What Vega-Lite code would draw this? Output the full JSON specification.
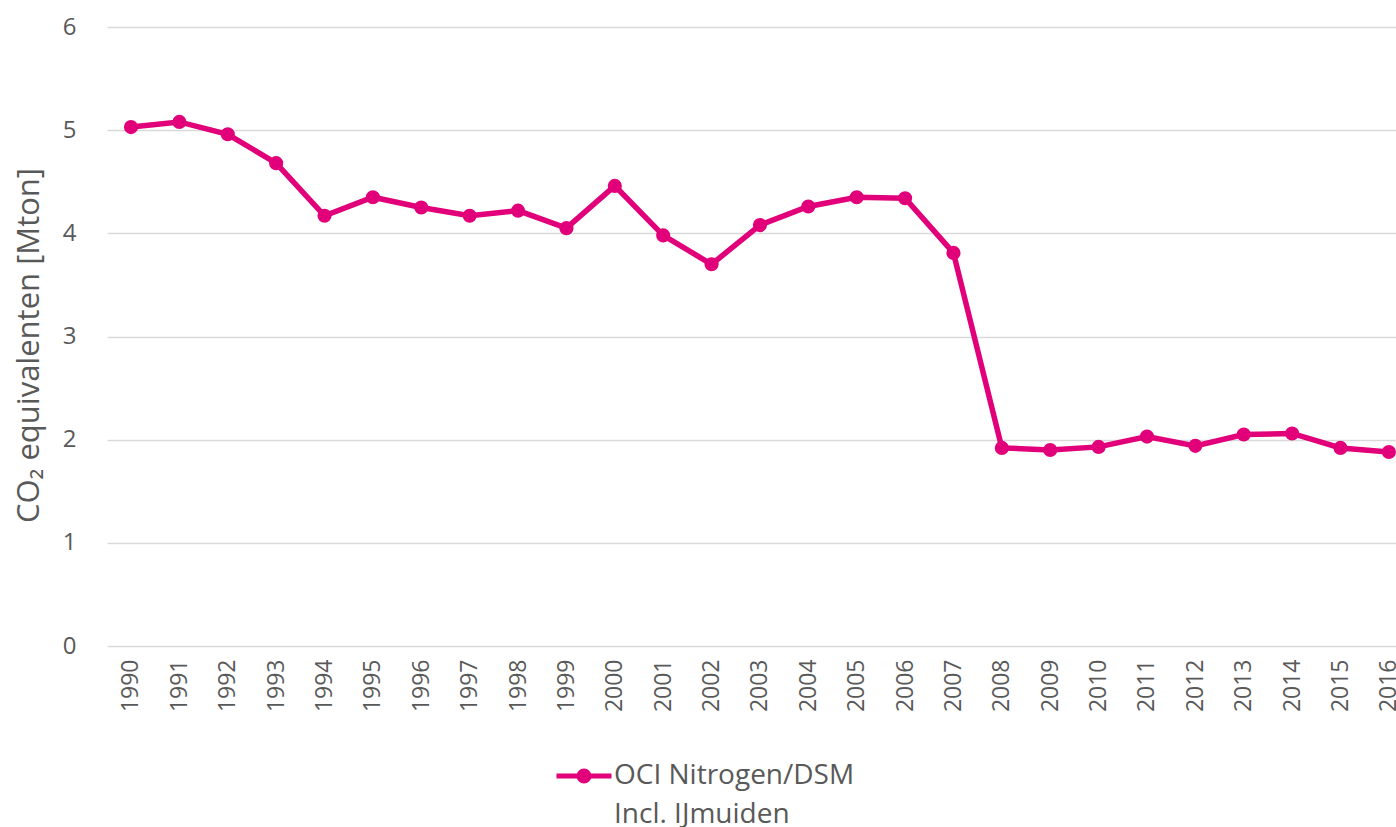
{
  "$schema": "https://vega.github.io/schema/vega-lite/v6.json",
  "width": 1289,
  "height": 619,
  "autosize": "none",
  "padding": {"left": 107, "top": 27, "right": 0, "bottom": 181},
  "background": "white",
  "config": {"view": {"stroke": null}, "font": "Open Sans"},
  "data": {
    "values": [
      {"year": 1990, "value": 5.03, "series": "OCI Nitrogen/DSM"},
      {"year": 1991, "value": 5.08, "series": "OCI Nitrogen/DSM"},
      {"year": 1992, "value": 4.96, "series": "OCI Nitrogen/DSM"},
      {"year": 1993, "value": 4.68, "series": "OCI Nitrogen/DSM"},
      {"year": 1994, "value": 4.17, "series": "OCI Nitrogen/DSM"},
      {"year": 1995, "value": 4.35, "series": "OCI Nitrogen/DSM"},
      {"year": 1996, "value": 4.25, "series": "OCI Nitrogen/DSM"},
      {"year": 1997, "value": 4.17, "series": "OCI Nitrogen/DSM"},
      {"year": 1998, "value": 4.22, "series": "OCI Nitrogen/DSM"},
      {"year": 1999, "value": 4.05, "series": "OCI Nitrogen/DSM"},
      {"year": 2000, "value": 4.46, "series": "OCI Nitrogen/DSM"},
      {"year": 2001, "value": 3.98, "series": "OCI Nitrogen/DSM"},
      {"year": 2002, "value": 3.70, "series": "OCI Nitrogen/DSM"},
      {"year": 2003, "value": 4.08, "series": "OCI Nitrogen/DSM"},
      {"year": 2004, "value": 4.26, "series": "OCI Nitrogen/DSM"},
      {"year": 2005, "value": 4.35, "series": "OCI Nitrogen/DSM"},
      {"year": 2006, "value": 4.34, "series": "OCI Nitrogen/DSM"},
      {"year": 2007, "value": 3.81, "series": "OCI Nitrogen/DSM"},
      {"year": 2008, "value": 1.92, "series": "OCI Nitrogen/DSM"},
      {"year": 2009, "value": 1.90, "series": "OCI Nitrogen/DSM"},
      {"year": 2010, "value": 1.93, "series": "OCI Nitrogen/DSM"},
      {"year": 2011, "value": 2.03, "series": "OCI Nitrogen/DSM"},
      {"year": 2012, "value": 1.94, "series": "OCI Nitrogen/DSM"},
      {"year": 2013, "value": 2.05, "series": "OCI Nitrogen/DSM"},
      {"year": 2014, "value": 2.06, "series": "OCI Nitrogen/DSM"},
      {"year": 2015, "value": 1.92, "series": "OCI Nitrogen/DSM"},
      {"year": 2016, "value": 1.88, "series": "OCI Nitrogen/DSM"}
    ]
  },
  "encoding": {
    "x": {
      "field": "year",
      "type": "quantitative",
      "scale": {"domain": [1989.504, 2016.147], "nice": false, "zero": false},
      "axis": {
        "title": null,
        "values": [1990,1991,1992,1993,1994,1995,1996,1997,1998,1999,2000,2001,2002,2003,2004,2005,2006,2007,2008,2009,2010,2011,2012,2013,2014,2015,2016],
        "format": "d",
        "labelAngle": 270,
        "labelAlign": "right",
        "labelBaseline": "middle",
        "labelFont": "Open Sans",
        "labelFontSize": 23,
        "labelColor": "#595959",
        "labelPadding": 13,
        "labelOverlap": false,
        "labelFlush": false,
        "grid": false,
        "ticks": false,
        "domain": false
      }
    },
    "y": {
      "field": "value",
      "type": "quantitative",
      "scale": {"domain": [0, 6], "nice": false},
      "axis": {
        "title": "CO₂ equivalenten [Mton]",
        "titleFont": "Open Sans",
        "titleFontSize": 31,
        "titleFontWeight": "normal",
        "titleColor": "#595959",
        "titleX": -78,
        "titleY": 318,
        "titleAngle": 270,
        "titleAlign": "center",
        "titleBaseline": "middle",
        "values": [0, 1, 2, 3, 4, 5, 6],
        "labelFont": "Open Sans",
        "labelFontSize": 24,
        "labelColor": "#595959",
        "labelPadding": 31,
        "grid": true,
        "gridColor": "#d9d9d9",
        "gridWidth": 1.5,
        "ticks": false,
        "domain": false
      }
    }
  },
  "layer": [
    {
      "mark": {"type": "line", "strokeWidth": 5.5, "clip": true},
      "encoding": {
        "color": {
          "field": "series",
          "type": "nominal",
          "scale": {"domain": ["OCI Nitrogen/DSM", "Incl. IJmuiden"], "range": ["#E2007A", "rgba(0,0,0,0)"]},
          "legend": {
            "orient": "none",
            "direction": "vertical",
            "legendX": 463,
            "legendY": 735,
            "title": null,
            "symbolType": "M-2.75,0H2.75M-0.5,0A0.5,0.5 0 1,0 0.5,0A0.5,0.5 0 1,0 -0.5,0ZM-0.25,0A0.25,0.25 0 1,0 0.25,0A0.25,0.25 0 1,0 -0.25,0Z",
            "symbolSize": 400,
            "symbolStrokeWidth": 5,
            "symbolFillColor": "transparent",
            "rowPadding": 9,
            "labelFont": "Open Sans",
            "labelFontSize": 28,
            "labelColor": "#595959",
            "labelBaseline": "middle",
            "labelOffset": 16,
            "labelLimit": 0
          }
        }
      }
    },
    {
      "mark": {"type": "point", "filled": true, "size": 200, "opacity": 1, "color": "#E2007A", "clip": true}
    }
  ]
}
